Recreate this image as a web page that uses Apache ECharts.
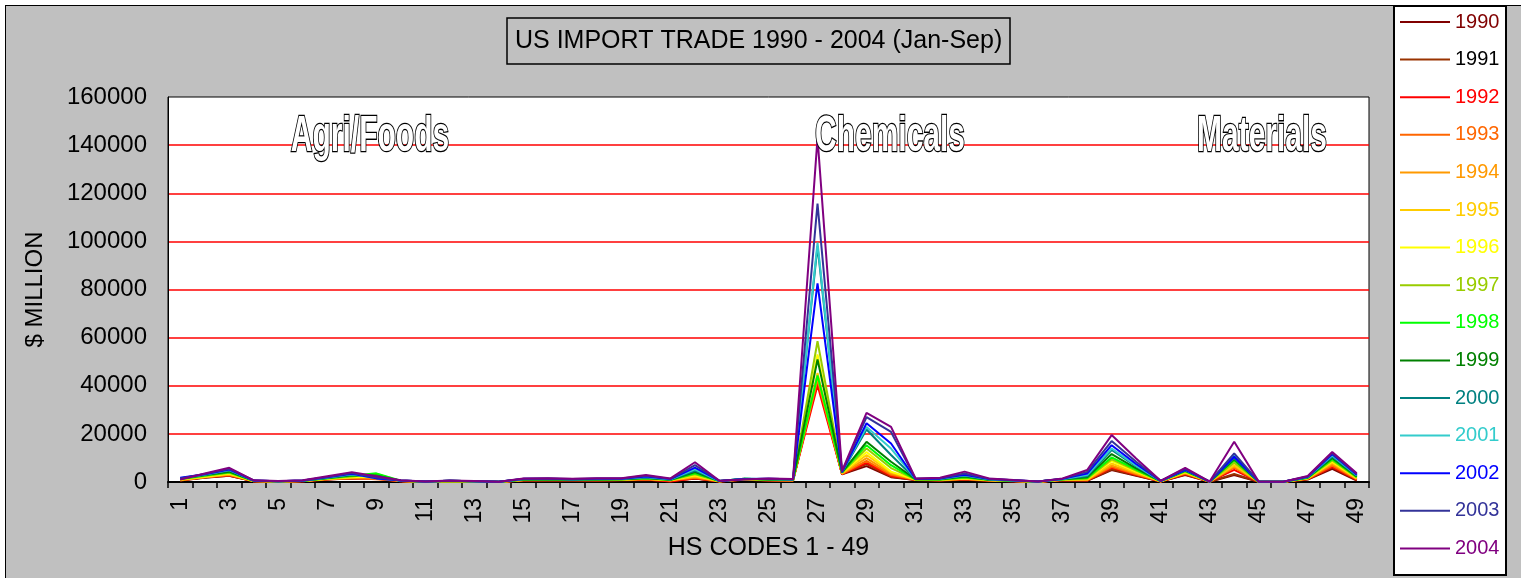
<!DOCTYPE html>
<html>
<head>
<meta charset="utf-8">
<script src="https://cdn.jsdelivr.net/npm/echarts@6/dist/echarts.min.js"></script>
<style>
html,body{margin:0;padding:0;background:#fff;width:1521px;height:578px;overflow:hidden;}
#frame{position:absolute;left:5px;top:5px;width:1600px;height:700px;background:#C0C0C0;border:1px solid #000;}
#legbox{position:absolute;left:1393px;top:5px;width:110px;height:567px;background:#fff;border:2px solid #000;}
#chart{position:absolute;left:0;top:0;width:1521px;height:578px;}
</style>
</head>
<body>
<div id="frame"></div>
<div id="legbox"></div>
<div id="chart"></div>
<script>
const categories = Array.from({length:49}, (_, i) => String(i + 1));
const years = ['1990','1991','1992','1993','1994','1995','1996','1997','1998','1999','2000','2001','2002','2003','2004'];
const lineColors = ['#800000','#993300','#FF0000','#FF6600','#FF9900','#FFCC00','#FFFF00','#99CC00','#00FF00','#008000','#008080','#33CCCC','#0000FF','#333399','#800080'];
const legendTextColors = ['#800000','#000000','#FF0000','#FF6600','#FF9900','#FFCC00','#FFFF00','#99CC00','#00FF00','#008000','#008080','#33CCCC','#0000FF','#333399','#800080'];
const yTicks = [0,20000,40000,60000,80000,100000,120000,140000,160000];

const y1990 = [600,1800,2600,300,200,300,1000,1500,1800,300,100,300,200,30,600,700,700,600,700,800,500,1400,200,900,600,500,43000,3200,6600,2000,800,600,900,500,300,100,700,500,5000,2600,200,2900,100,2900,80,50,1000,5500,600];
const y1991 = [650,1900,2600,300,200,320,1050,1550,1500,320,110,320,210,35,650,750,720,650,750,900,550,1500,220,950,650,550,42000,3300,7400,2200,850,650,1000,550,320,110,750,600,5300,2800,220,3100,110,3300,85,55,1100,6100,800];
const y1992 = [700,2000,2800,350,220,350,1100,1600,1300,350,120,340,220,40,700,800,740,700,800,1000,200,1600,240,1000,700,600,40200,3300,8000,2500,900,700,1100,600,350,120,800,700,5900,3000,240,3300,120,5000,90,60,1200,6300,1000];
const y1993 = [750,2100,2900,350,220,380,1150,1650,1100,380,130,360,230,45,750,850,760,750,850,1100,650,1800,260,1050,750,650,42500,3400,8800,3000,900,750,1200,650,380,130,850,800,6300,3200,260,3500,130,6000,95,65,1300,6800,1200];
const y1994 = [800,2000,3100,400,240,400,1200,1700,1900,400,140,380,240,50,800,900,780,800,900,1200,700,2100,280,1100,800,700,43500,3500,9900,3500,950,800,1300,700,400,140,900,900,6900,3500,280,3700,140,6500,100,70,1400,7500,1300];
const y1995 = [900,2100,3300,400,240,420,1300,1900,2600,420,150,400,250,50,850,950,800,850,950,1300,750,2400,300,1150,850,750,45300,3700,11200,4000,1000,850,1400,750,420,150,950,1000,7700,3900,300,3900,150,7000,105,75,1500,8000,1500];
const y1996 = [1000,2300,3500,450,260,450,1400,2100,2200,450,160,420,260,55,900,1000,850,900,1000,1400,800,2800,320,1200,900,800,53000,3800,12500,4300,1050,900,1600,800,450,160,1000,1200,8700,4300,320,4100,150,8000,110,80,1600,8500,1700];
const y1997 = [1100,2500,3800,450,260,480,1500,2300,3300,480,170,440,270,55,950,1050,900,950,1050,1500,850,3200,340,1250,950,850,58500,3900,13900,5800,1100,950,1800,850,480,170,1050,1400,9400,4700,340,4300,160,8000,115,85,1700,9000,1900];
const y1998 = [1200,2700,4000,500,280,500,1600,2600,3600,500,180,460,280,60,1000,1100,950,1000,1100,1600,900,3600,360,1300,1000,900,44300,4000,15300,7000,1100,1000,2000,900,500,180,1100,1700,10200,5100,360,4500,160,9000,120,90,1800,9500,2100];
const y1999 = [1300,2900,4300,500,280,520,1700,2800,2700,520,190,480,290,60,1050,1150,1000,1050,1150,1700,950,4100,380,1350,1050,950,50900,4000,16700,8400,1150,1100,2300,950,550,190,1150,2000,11600,5700,380,4700,170,9400,125,95,1900,10000,2300];
const y2000 = [1500,3000,4800,550,300,550,1800,3000,2500,550,200,500,300,65,1100,1200,1050,1100,1200,1900,1000,4700,400,1400,1100,1000,98000,4100,21800,11200,1200,1200,2600,1000,600,200,1200,2400,13300,6500,400,5000,170,10000,130,100,2000,10500,2600];
const y2001 = [1600,3100,5000,600,320,580,1900,3200,1600,580,210,520,320,70,1200,1300,1100,1200,1300,2100,1100,5300,420,1300,1200,1050,99500,4200,22900,13900,1300,1300,2800,1100,650,210,1250,2900,13900,6800,420,5100,180,11000,135,105,2100,11000,2800];
const y2002 = [1800,3200,5200,600,340,600,2000,3400,1500,600,220,540,340,70,1300,1400,1150,1300,1400,2300,1200,6000,440,1200,1300,1100,82500,4100,24400,16000,1250,1400,3000,1200,700,220,1300,3500,15300,7500,440,5000,180,10500,140,110,2200,11500,3000];
const y2003 = [1500,3300,5500,650,360,650,2100,3700,1900,650,230,560,360,75,1400,1500,1200,1450,1500,2600,1300,7000,460,1100,1400,1150,115700,4300,27000,20800,1300,1600,3500,1300,750,230,1400,4200,17000,8400,460,5500,190,11900,150,115,2300,12000,3300];
const y2004 = [1000,3500,5900,700,380,700,2400,4100,2400,700,250,600,400,80,1500,1600,1300,1600,1600,2900,1500,8200,500,1000,1500,1200,143000,4600,28700,22900,1500,1800,4300,1500,800,250,1500,5000,19500,9800,500,5900,200,16700,160,120,2500,12500,3600];

const seriesValues = [y1990,y1991,y1992,y1993,y1994,y1995,y1996,y1997,y1998,y1999,y2000,y2001,y2002,y2003,y2004];
seriesValues.forEach((a, i) => { if (a.length !== 49) throw new Error('bad length ' + years[i] + ' ' + a.length); });

const FONT = 'Arial, "Liberation Sans", sans-serif';
const chart = echarts.init(document.getElementById('chart'), null, {renderer: 'canvas'});

const annoStyle = (text, x) => ({
  type: 'text', x: x, y: 137, scaleX: 0.6, z: 100,
  style: {
    text: text, fontSize: 50, fontWeight: 'bold',
    fontFamily: '"Liberation Sans Narrow", "Arial Narrow", "Liberation Sans", sans-serif',
    fill: '#fff', stroke: '#000', lineWidth: 2.6,
    align: 'center', verticalAlign: 'middle'
  }
});

chart.setOption({
  animation: false,
  backgroundColor: 'transparent',
  title: {
    text: 'US IMPORT TRADE 1990 - 2004 (Jan-Sep)',
    left: 507, top: 18,
    padding: [11, 8, 10, 8],
    borderColor: '#000', borderWidth: 1.5,
    textStyle: {fontFamily: FONT, fontSize: 25, fontWeight: 'normal', color: '#000'}
  },
  legend: {
    orient: 'vertical',
    left: 1400, top: 12,
    icon: 'rect',
    itemWidth: 50, itemHeight: 2, itemGap: 17.6,
    padding: 0,
    data: years.map((y, i) => ({name: y, textStyle: {color: legendTextColors[i]}})),
    textStyle: {fontFamily: FONT, fontSize: 20, lineHeight: 20}
  },
  grid: {
    left: 168, top: 97, right: 152, bottom: 96,
    show: true, backgroundColor: '#fff', borderColor: '#000', borderWidth: 1
  },
  xAxis: {
    type: 'category',
    data: categories,
    boundaryGap: true,
    name: 'HS CODES 1 - 49',
    nameLocation: 'middle',
    nameGap: 54,
    nameTextStyle: {fontFamily: FONT, fontSize: 25, color: '#000'},
    axisLine: {lineStyle: {color: '#000', width: 2}},
    axisTick: {show: true, interval: 0, length: 6, lineStyle: {color: '#000', width: 1.5}},
    axisLabel: {interval: 1, rotate: 90, margin: 16, fontFamily: FONT, fontSize: 23, color: '#000'},
    splitLine: {show: false}
  },
  yAxis: {
    type: 'value',
    min: yTicks[0], max: yTicks[yTicks.length - 1], interval: yTicks[1] - yTicks[0],
    name: '$ MILLION',
    nameLocation: 'middle',
    nameRotate: 90,
    nameGap: 121,
    nameTextStyle: {fontFamily: FONT, fontSize: 24, color: '#000'},
    axisLine: {show: true, lineStyle: {color: '#000', width: 1}},
    axisTick: {show: false},
    axisLabel: {margin: 21, fontFamily: FONT, fontSize: 24, color: '#000', formatter: v => String(v)},
    splitLine: {show: true, showMinLine: false, showMaxLine: false, lineStyle: {color: '#FF0000', width: 1.5}}
  },
  graphic: [
    annoStyle('Agri/Foods', 370),
    annoStyle('Chemicals', 890),
    annoStyle('Materials', 1262)
  ],
  series: years.map((y, i) => ({
    name: y,
    type: 'line',
    data: seriesValues[i],
    symbol: 'none',
    showSymbol: false,
    lineStyle: {color: lineColors[i], width: 2},
    itemStyle: {color: lineColors[i]},
    z: 2 + i
  }))
});
</script>
</body>
</html>
